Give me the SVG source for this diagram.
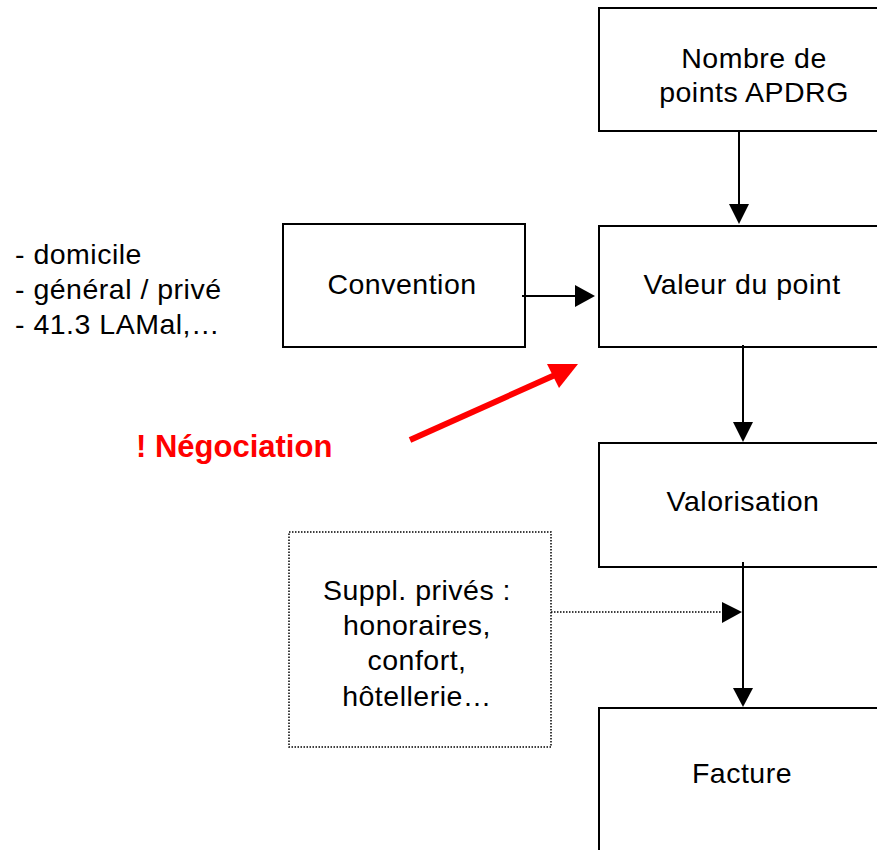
<svg xmlns="http://www.w3.org/2000/svg" width="877" height="850" viewBox="0 0 877 850">
<style>
.box{fill:#fff;stroke:#000;stroke-width:2}
.dot{fill:#fff;stroke:#000;stroke-width:1.5;stroke-dasharray:1.5 1.5}
.t{font-family:"Liberation Sans",Arial,sans-serif;font-size:28.5px;letter-spacing:0.5px;fill:#000}
.c{text-anchor:middle}
.ln{stroke:#000;stroke-width:2;fill:none}
.hd{fill:#000}
.neg{font-family:"Liberation Sans",Arial,sans-serif;font-size:31px;font-weight:bold;fill:#ff0000}
</style>
<rect width="877" height="850" fill="#fff"/>
<g id="nombre">
<rect class="box" x="599" y="8" width="320" height="123"/>
<text class="t c" x="754" y="68">Nombre de</text>
<text class="t c" x="754" y="102">points APDRG</text>
</g>
<g id="valeur">
<rect class="box" x="599" y="226" width="300" height="121"/>
<text class="t c" x="742" y="294">Valeur du point</text>
</g>
<g id="convention">
<rect class="box" x="283" y="224" width="242" height="123"/>
<text class="t c" x="402" y="294">Convention</text>
</g>
<g id="liste">
<text class="t" x="15" y="264">- domicile</text>
<text class="t" x="15" y="299">- général / privé</text>
<text class="t" x="15" y="334">- 41.3 LAMal,…</text>
</g>
<g id="negociation">
<text class="neg" x="136" y="457">! Négociation</text>
</g>
<g id="valorisation">
<rect class="box" x="599" y="443" width="300" height="124"/>
<text class="t c" x="743" y="511">Valorisation</text>
</g>
<g id="suppl">
<rect class="dot" x="289" y="532" width="262" height="215"/>
<text class="t c" x="417" y="600">Suppl. privés :</text>
<text class="t c" x="417" y="635">honoraires,</text>
<text class="t c" x="417" y="670">confort,</text>
<text class="t c" x="417" y="706">hôtellerie…</text>
</g>
<g id="facture">
<rect class="box" x="599" y="708" width="300" height="160"/>
<text class="t c" x="742" y="783">Facture</text>
</g>
<g id="connectors">
<line class="ln" x1="739" y1="131" x2="739" y2="206"/>
<polygon class="hd" points="729,204 749,204 739,224"/>
<line class="ln" x1="522" y1="296" x2="577" y2="296"/>
<polygon class="hd" points="575,285 575,307 595,296"/>
<line class="ln" x1="743" y1="345" x2="743" y2="424"/>
<polygon class="hd" points="733,422 753,422 743,442"/>
<line class="ln" x1="743" y1="562" x2="743" y2="690"/>
<polygon class="hd" points="733,688 753,688 743,707"/>
<line x1="551" y1="612" x2="724" y2="612" stroke="#000" stroke-width="1.5" stroke-dasharray="1.5 1.5"/>
<polygon class="hd" points="722,602 722,623 742,612"/>
<line x1="410" y1="440" x2="555" y2="375" stroke="#ff0000" stroke-width="6"/>
<polygon fill="#ff0000" points="547,364 578,364 559,388"/>
</g>
</svg>
